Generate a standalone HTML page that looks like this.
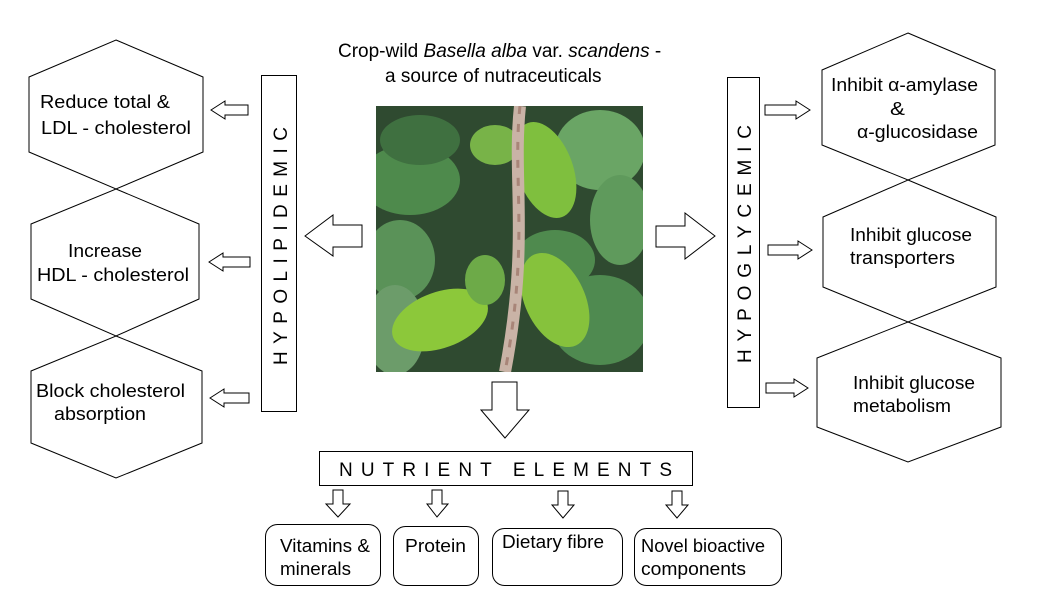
<!DOCTYPE html>
<html><head><meta charset="utf-8"><style>
html,body{margin:0;padding:0;background:#fff;}
svg{display:block;font-family:"Liberation Sans",Arial,sans-serif;}
text{fill:#000;}
</style></head><body>
<svg width="1043" height="614" viewBox="0 0 1043 614" xmlns="http://www.w3.org/2000/svg">
<rect width="1043" height="614" fill="#fff"/>
<g fill="none" stroke="#000" stroke-width="1">
<polygon points="116,40 203,77 203,152 116,189 29,152 29,77"/>
<polygon points="116,189 199,224 199,299 116,336 31,299 31,224"/>
<polygon points="116,336 202,371 202,443 116,478 31,443 31,371"/>
<polygon points="908,33 995,70 995,145 908,180 822,145 822,70"/>
<polygon points="908,180 996,217 996,287 908,322 823,287 823,217"/>
<polygon points="908,322 1001,358 1001,427 908,462 817,427 817,358"/>
<rect x="261.5" y="75.5" width="35" height="336"/>
<rect x="727.5" y="77.5" width="32" height="330"/>
<polygon points="211,110 225,101 225,105 248,105 248,115 225,115 225,119"/>
<polygon points="209,262 223,253 223,257 250,257 250,267 223,267 223,271"/>
<polygon points="210,398 224,389 224,393 249,393 249,403 224,403 224,407"/>
<polygon points="810,110 796,101 796,105 765,105 765,115 796,115 796,119"/>
<polygon points="812,250 798,241 798,245 768,245 768,255 798,255 798,259"/>
<polygon points="808,388 794,379 794,383 766,383 766,393 794,393 794,397"/>
<polygon points="305,236 333,215 333,225 362,225 362,247 333,247 333,256"/>
<polygon points="715,236 685,213 685,226 656,226 656,247 685,247 685,259"/>
<polygon points="505,438 481,410 492,410 492,382 517,382 517,410 529,410"/>
<rect x="319.5" y="451.5" width="373" height="34"/>
<polygon points="338,517 326,504 333,504 333,490 343,490 343,504 350,504"/>
<polygon points="437,517 427,504 432,504 432,490 442,490 442,504 448,504"/>
<polygon points="563,518 552,505 558,505 558,491 568,491 568,505 574,505"/>
<polygon points="677,518 666,505 672,505 672,491 682,491 682,505 688,505"/>
<rect x="265.5" y="524.5" width="115" height="61" rx="12"/>
<rect x="393.5" y="526.5" width="85" height="59" rx="12"/>
<rect x="492.5" y="528.5" width="130" height="57" rx="12"/>
<rect x="634.5" y="528.5" width="147" height="57" rx="12"/>
</g>

<defs><clipPath id="ph"><rect x="376" y="106" width="267" height="266"/></clipPath></defs>
<g clip-path="url(#ph)">
<rect x="376" y="106" width="267" height="266" fill="#2f4a30"/>
<ellipse cx="410" cy="180" rx="50" ry="35" fill="#4e8a4c"/>
<ellipse cx="420" cy="140" rx="40" ry="25" fill="#3f7040"/>
<ellipse cx="400" cy="260" rx="35" ry="40" fill="#5a9258"/>
<ellipse cx="395" cy="330" rx="30" ry="45" fill="#6c9c6a"/>
<ellipse cx="600" cy="150" rx="45" ry="40" fill="#6aa565"/>
<ellipse cx="620" cy="220" rx="30" ry="45" fill="#5f9a5c"/>
<ellipse cx="600" cy="320" rx="50" ry="45" fill="#4f8a50"/>
<ellipse cx="555" cy="260" rx="40" ry="30" fill="#4f8a4e"/>
<ellipse cx="545" cy="170" rx="28" ry="50" fill="#7fbf3e" transform="rotate(-20 545 170)"/>
<ellipse cx="440" cy="320" rx="50" ry="28" fill="#8cc83a" transform="rotate(-20 440 320)"/>
<ellipse cx="555" cy="300" rx="30" ry="50" fill="#86c23c" transform="rotate(-25 555 300)"/>
<ellipse cx="495" cy="145" rx="25" ry="20" fill="#78b348"/>
<ellipse cx="485" cy="280" rx="20" ry="25" fill="#6daa48"/>
<path d="M520 106 C512 180 530 240 505 372" stroke="#c9b3a6" stroke-width="12" fill="none"/>
<path d="M520 106 C512 180 530 240 505 372" stroke="#a88578" stroke-width="3" fill="none" stroke-dasharray="8 10"/>
</g>

<text x="338" y="57" font-size="19">Crop-wild <tspan font-style="italic">Basella alba</tspan> var. <tspan font-style="italic">scandens</tspan> -</text>
<text x="385" y="82" font-size="19">a source of nutraceuticals</text>

<g font-size="18.5">
<text x="40" y="108" textLength="130" lengthAdjust="spacingAndGlyphs">Reduce total &amp;</text>
<text x="41" y="134" textLength="150" lengthAdjust="spacingAndGlyphs">LDL - cholesterol</text>
<text x="68" y="257" textLength="74" lengthAdjust="spacingAndGlyphs">Increase</text>
<text x="37" y="281" textLength="152" lengthAdjust="spacingAndGlyphs">HDL - cholesterol</text>
<text x="36" y="397" textLength="149" lengthAdjust="spacingAndGlyphs">Block cholesterol</text>
<text x="54" y="420" textLength="92" lengthAdjust="spacingAndGlyphs">absorption</text>
<text x="831" y="91" textLength="147" lengthAdjust="spacingAndGlyphs">Inhibit α-amylase</text>
<text x="890" y="115" textLength="15" lengthAdjust="spacingAndGlyphs">&amp;</text>
<text x="857" y="138" textLength="121" lengthAdjust="spacingAndGlyphs">α-glucosidase</text>
<text x="850" y="241" textLength="122" lengthAdjust="spacingAndGlyphs">Inhibit glucose</text>
<text x="850" y="264" textLength="105" lengthAdjust="spacingAndGlyphs">transporters</text>
<text x="853" y="389" textLength="122" lengthAdjust="spacingAndGlyphs">Inhibit glucose</text>
<text x="853" y="412" textLength="98" lengthAdjust="spacingAndGlyphs">metabolism</text>
<text x="280" y="552" textLength="90" lengthAdjust="spacingAndGlyphs">Vitamins &amp;</text>
<text x="280" y="575" textLength="71" lengthAdjust="spacingAndGlyphs">minerals</text>
<text x="405" y="552" textLength="61" lengthAdjust="spacingAndGlyphs">Protein</text>
<text x="502" y="548" textLength="102" lengthAdjust="spacingAndGlyphs">Dietary fibre</text>
<text x="641" y="552" textLength="124" lengthAdjust="spacingAndGlyphs">Novel bioactive</text>
<text x="641" y="575" textLength="105" lengthAdjust="spacingAndGlyphs">components</text>
</g>

<text font-size="19" transform="translate(287,365) rotate(-90)" textLength="238" lengthAdjust="spacing">HYPOLIPIDEMIC</text>
<text font-size="19" transform="translate(751,363) rotate(-90)" textLength="238" lengthAdjust="spacing">HYPOGLYCEMIC</text>

<text x="339" y="476" font-size="19" textLength="333" lengthAdjust="spacing">NUTRIENT ELEMENTS</text>
</svg>
</body></html>
